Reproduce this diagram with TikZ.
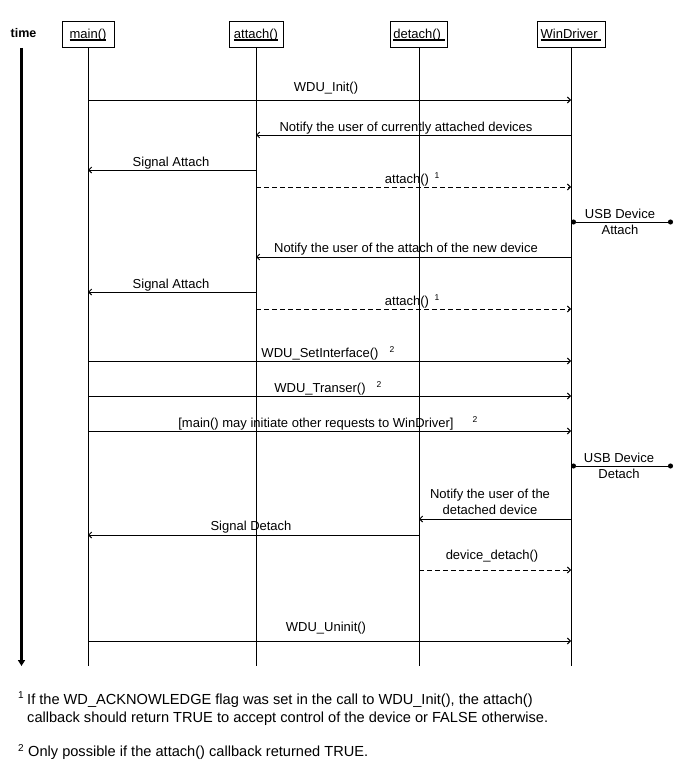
\documentclass[tikz,border=0pt]{standalone}
\usepackage{fontspec}
\setmainfont{Liberation Sans}
\usetikzlibrary{arrows.meta,calc}
\newcommand\hdrul[1]{\setbox0=\hbox{#1}\rlap{\rule[-2.5pt]{\wd0}{2pt}}\box0}
\newcommand\supn[1]{\raisebox{5pt}{\fontsize{8.5}{9}\selectfont #1}}
\newcommand\fsupn[1]{\raisebox{5.5pt}{\fontsize{10}{11}\selectfont #1}}
\begin{document}
\begin{tikzpicture}[x=1pt,y=-1pt,
  every node/.style={font=\fontsize{13}{15}\selectfont, inner sep=0pt},
  hdr/.style={draw, line width=1pt, minimum height=26pt, anchor=center},
  life/.style={line width=1pt},
  msg/.style={line width=1pt, -{Straight Barb[length=3pt,width=6pt]}},
  ret/.style={msg, dash pattern=on 5pt off 3pt},
  ext/.style={line width=1pt, {Circle[length=5pt]}-{Circle[length=5pt]}},
  lbl/.style={anchor=base},
  foot/.style={anchor=base west, font=\fontsize{14.6}{17}\selectfont},
  timearrow/.style={line width=2.7pt, -{Triangle[length=6pt,width=7pt]}}
]
\useasboundingbox (0,0) rectangle (683,768);
\fill[white] (0,0) rectangle (683,768);

% participants
\node[hdr, minimum width=52pt] (main) at (88,35) {\hdrul{main()}};
\node[hdr, minimum width=54pt] (att)  at (256,35) {\hdrul{attach()}};
\node[hdr, minimum width=57pt] (det)  at (419,35) {\hdrul{detach()\ }};
\node[hdr, minimum width=68pt] (win)  at (571,35) {\hdrul{WinDriver\ }};

% lifeline ends
\coordinate (mainE) at (88,666);
\coordinate (attE)  at (256,666);
\coordinate (detE)  at (419,666);
\coordinate (winE)  at (571,666);
\draw[life] (main.south) -- (mainE);
\draw[life] (att.south) -- (attE);
\draw[life] (det.south) -- (detE);
\draw[life] (win.south) -- (winE);

% time axis
\node[font=\bfseries\fontsize{12.5}{15}\selectfont] (time) at (23.5,33) {time};
\coordinate (t0) at (21.5,48);
\coordinate (t1) at (21.5,666);
\draw[timearrow] (t0) -- (t1);

% messages
\draw[msg] (main |- 0,100) -- (win |- 0,100);
\node[lbl] (l1) at (326,91) {WDU\_Init()};

\draw[msg] (win |- 0,135) -- (att |- 0,135);
\node[lbl] (l2) at (406,131) {Notify the user of currently attached devices};

\draw[msg] (att |- 0,170) -- (main |- 0,170);
\node[lbl] (l3) at (171,166) {Signal Attach};

\draw[ret] (att |- 0,187) -- (win |- 0,187);
\node[lbl] (l4) at (407,183) {attach()};
\node[lbl] (l4s) at (437,183) {\supn{1}};

\coordinate (usbA) at (673,222);
\draw[ext] (usbA) -- (win |- usbA);
\node[lbl] (l5a) at (620,218) {USB Device};
\node[lbl] (l5b) at (620,234) {Attach};

\draw[msg] (win |- 0,257) -- (att |- 0,257);
\node[lbl] (l6) at (406,252) {Notify the user of the attach of the new device};

\draw[msg] (att |- 0,292) -- (main |- 0,292);
\node[lbl] (l7) at (171,288) {Signal Attach};

\draw[ret] (att |- 0,309) -- (win |- 0,309);
\node[lbl] (l8) at (407,305) {attach()};
\node[lbl] (l8s) at (437,305) {\supn{1}};

\draw[msg] (main |- 0,361) -- (win |- 0,361);
\node[lbl] (l9) at (320,357) {WDU\_SetInterface()};
\node[lbl] (l9s) at (392,357) {\supn{2}};

\draw[msg] (main |- 0,396) -- (win |- 0,396);
\node[lbl] (l10) at (320,392) {WDU\_Transer()};
\node[lbl] (l10s) at (379,392) {\supn{2}};

\draw[msg] (main |- 0,431) -- (win |- 0,431);
\node[lbl] (l11) at (316,427) {[main() may initiate other requests to WinDriver]};
\node[lbl] (l11s) at (475,427) {\supn{2}};

\coordinate (usbD) at (673,466);
\draw[ext] (usbD) -- (win |- usbD);
\node[lbl] (l12a) at (619,462) {USB Device};
\node[lbl] (l12b) at (619,478) {Detach};

\draw[msg] (win |- 0,519) -- (det |- 0,519);
\node[lbl] (l13a) at (490,498) {Notify the user of the};
\node[lbl] (l13b) at (490,514) {detached device};

\draw[msg] (det |- 0,535) -- (main |- 0,535);
\node[lbl] (l14) at (251,530) {Signal Detach};

\draw[ret] (det |- 0,570) -- (win |- 0,570);
\node[lbl] (l15) at (492,559) {device\_detach()};

\draw[msg] (main |- 0,641) -- (win |- 0,641);
\node[lbl] (l16) at (326,631) {WDU\_Uninit()};

% footnotes
\node[foot] (f1s) at (18,704) {\fsupn{1}};
\node[foot] (f1) at (27,704) {If the WD\_ACKNOWLEDGE flag was set in the call to WDU\_Init(), the attach()};
\node[foot] (f1b) at (27,722.5) {callback should return TRUE to accept control of the device or FALSE otherwise.};
\node[foot] (f2s) at (18,756.5) {\fsupn{2}};
\node[foot] (f2) at (28,756.5) {Only possible if the attach() callback returned TRUE.};
\end{tikzpicture}
\end{document}
